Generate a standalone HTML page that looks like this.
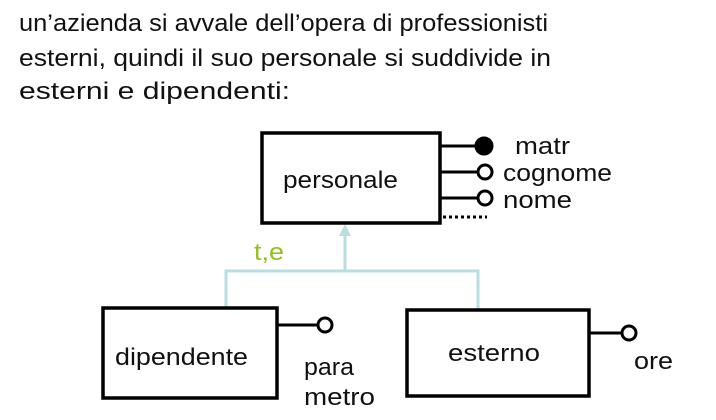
<!DOCTYPE html>
<html><head><style>
body{margin:0;width:716px;height:420px;background:#fff;overflow:hidden}
</style></head><body>
<svg width="716" height="420" style="position:absolute;left:0;top:0" font-family="Liberation Sans, sans-serif" font-size="24" fill="#111">
<text x="19" y="31" textLength="529" lengthAdjust="spacingAndGlyphs">un’azienda si avvale dell’opera di professionisti</text>
<text x="19" y="66" textLength="532" lengthAdjust="spacingAndGlyphs">esterni, quindi il suo personale si suddivide in</text>
<text x="19" y="99" textLength="271" lengthAdjust="spacingAndGlyphs">esterni e dipendenti:</text>
<g fill="none" stroke="#b7dfe3" stroke-width="3">
<line x1="345" y1="232" x2="345" y2="271"/>
<polyline points="226,308 226,271 478,271 478,310"/>
</g>
<polygon points="345,224 339,236 351,236" fill="#b7dfe3"/>
<g fill="none" stroke="#000" stroke-width="3.5">
<rect x="262" y="133" width="178" height="90"/>
<rect x="103" y="308" width="174" height="90"/>
<rect x="407" y="310" width="182" height="86"/>
</g>
<g stroke="#000" stroke-width="3" fill="#fff">
<line x1="440" y1="146" x2="477" y2="146"/>
<line x1="440" y1="172" x2="478" y2="172"/>
<line x1="440" y1="198" x2="478" y2="198"/>
<line x1="277" y1="325" x2="318" y2="325"/>
<line x1="589" y1="333" x2="622" y2="333"/>
<circle cx="484" cy="146" r="8" fill="#000"/>
<circle cx="485" cy="172" r="7"/>
<circle cx="485" cy="198" r="7"/>
<circle cx="325" cy="325" r="7"/>
<circle cx="629" cy="333" r="7"/>
<line x1="443" y1="217" x2="487" y2="217" stroke-dasharray="3,3"/>
</g>
<text x="283" y="188" textLength="115" lengthAdjust="spacingAndGlyphs">personale</text>
<text x="515" y="154" textLength="55" lengthAdjust="spacingAndGlyphs">matr</text>
<text x="503" y="181" textLength="109" lengthAdjust="spacingAndGlyphs">cognome</text>
<text x="503" y="208" textLength="69" lengthAdjust="spacingAndGlyphs">nome</text>
<text x="254" y="260" fill="#92c020" textLength="30" lengthAdjust="spacingAndGlyphs">t,e</text>
<text x="115" y="365" textLength="133" lengthAdjust="spacingAndGlyphs">dipendente</text>
<text x="304" y="375" textLength="50" lengthAdjust="spacingAndGlyphs">para</text>
<text x="304" y="405" textLength="71" lengthAdjust="spacingAndGlyphs">metro</text>
<text x="448" y="361" textLength="92" lengthAdjust="spacingAndGlyphs">esterno</text>
<text x="634" y="369" textLength="39" lengthAdjust="spacingAndGlyphs">ore</text>
</svg>
</body></html>
